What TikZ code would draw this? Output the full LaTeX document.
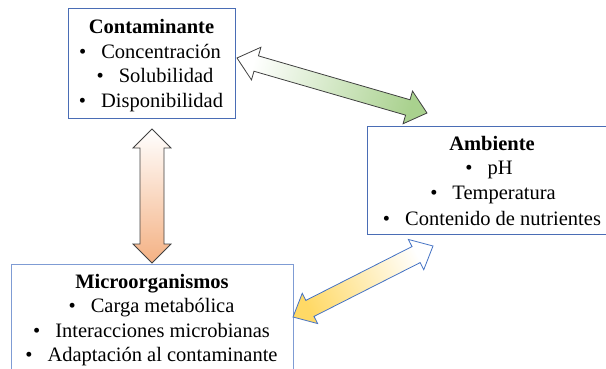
\documentclass[tikz,border=0pt]{standalone}
\usepackage{fontspec}
\setmainfont{Liberation Serif}
\usetikzlibrary{calc}
\definecolor{boxblue}{HTML}{4A6DB5}
\definecolor{boxlight}{HTML}{7F9CD4}
\definecolor{arrowgreen}{HTML}{A9D18E}
\definecolor{arroworange}{HTML}{F4B183}
\definecolor{arrowyellow}{HTML}{FFD966}
\definecolor{arrowblue}{HTML}{4472C4}
\definecolor{arrowgray}{HTML}{404040}
% #1 style, #2 tip A, #3 tip B, #4 head length, #5 head half-width, #6 shaft half-width
\newcommand\myblockarrow[6]{%
  \coordinate (ba1) at ($(#2)!#4!(#3)$);
  \coordinate (ba2) at ($(#3)!#4!(#2)$);
  \path[#1] (#2) -- ($(ba1)!#5!90:(#3)$) -- ($(ba1)!#6!90:(#3)$)
    -- ($(ba2)!#6!-90:(#2)$) -- ($(ba2)!#5!-90:(#2)$) -- (#3)
    -- ($(ba2)!#5!90:(#2)$) -- ($(ba2)!#6!90:(#2)$)
    -- ($(ba1)!#6!-90:(#3)$) -- ($(ba1)!#5!-90:(#3)$) -- cycle;
}
\newcommand\itembul{\textbullet\hspace{15pt}}
\begin{document}
\begin{tikzpicture}[x=1pt,y=-1pt,
  txt/.style={anchor=base, inner sep=0pt, font=\fontsize{20.5}{24.5}\selectfont},
  ttl/.style={anchor=base, inner sep=0pt, font=\fontsize{20.5}{24.5}\selectfont\bfseries},
  panel/.style={draw=boxblue, line width=1pt, inner sep=0pt},
  panellight/.style={draw=boxlight, line width=1pt, inner sep=0pt},
  garrow/.style={draw=arrowgray, line width=0.8pt, line join=miter, top color=white, bottom color=arrowgreen, shading angle=74},
  oarrow/.style={draw=arrowgray, line width=0.8pt, line join=miter, top color=white, bottom color=arroworange, shading angle=0},
  yarrow/.style={draw=arrowblue, line width=0.8pt, line join=miter, top color=white, bottom color=arrowyellow, shading angle=-63},
]
\useasboundingbox (0,0) rectangle (606,369);
\clip (0,0) rectangle (606,369);

% boxes
\node[panel, minimum width=167pt, minimum height=110pt] (cont) at (151.5,64) {};
\node[panel, minimum width=250pt, minimum height=107pt] (amb) at (492,180.5) {};
\node[panellight, minimum width=282pt, minimum height=116pt] (micro) at (152,322) {};

% Contaminante
\node[ttl] (cT) at (151.5,34) {Contaminante};
\node[txt] (c1) at (150,59) {\itembul Concentración};
\node[txt] (c2) at (155,83) {\itembul Solubilidad};
\node[txt] (c3) at (151,107) {\itembul Disponibilidad};

% Ambiente
\node[ttl] (aT) at (492,150) {Ambiente};
\node[txt] (a1) at (489,175) {\itembul pH};
\node[txt] (a2) at (493,200) {\itembul Temperatura};
\node[txt] (a3) at (492,225) {\itembul Contenido de nutrientes};

% Microorganismos
\node[ttl] (mT) at (152,288) {Microorganismos};
\node[txt] (m1) at (151.5,312) {\itembul Carga metabólica};
\node[txt] (m2) at (151.5,337) {\itembul Interacciones microbianas};
\node[txt] (m3) at (151.5,361) {\itembul Adaptación al contaminante};

% arrow tips
\coordinate (gA) at (237,58);
\coordinate (gB) at (427,113);
\coordinate (oA) at (152,129);
\coordinate (oB) at (152,263);
\coordinate (yA) at (293,317);
\coordinate (yB) at (433,246);

\myblockarrow{garrow}{gA}{gB}{20pt}{17pt}{8pt}
\myblockarrow{oarrow}{oA}{oB}{19pt}{19pt}{12pt}
\myblockarrow{yarrow}{yA}{yB}{19pt}{17pt}{9pt}
\end{tikzpicture}
\end{document}
